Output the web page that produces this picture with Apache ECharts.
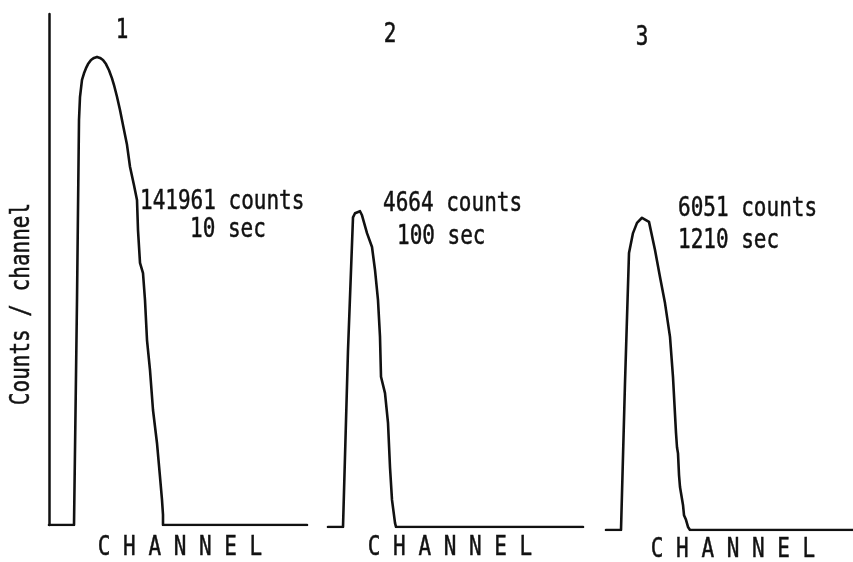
<!DOCTYPE html>
<html>
<head>
<meta charset="utf-8">
<script src="https://cdn.jsdelivr.net/npm/echarts@6/dist/echarts.min.js"></script>
<style>
  html, body { margin: 0; padding: 0; background: #fff; }
  #chart { width: 853px; height: 562px; }
</style>
</head>
<body>
<div id="chart"></div>
<script>
// Pulse-height spectra, three acquisitions: [channel, counts/channel (relative, full scale 1000)]
const spectrum1 = [
  [0, 0], [25, 0], [28, 440], [30, 793], [31, 838], [33, 871], [35, 884], [37, 894],
  [39, 902], [42, 910], [45, 914], [48, 916], [51, 914], [54, 910], [57, 902], [60, 890],
  [63, 874], [65, 861], [68, 838], [71, 812], [74, 783], [78, 744], [81, 701], [85, 665],
  [88, 636], [89, 577], [91, 513], [94, 493], [96, 440], [98, 362], [101, 303], [104, 225],
  [108, 160], [111, 94], [113, 49], [114, 20], [114, 0], [258, 0]
];
const spectrum2 = [
  [0, 0], [15, 0], [20, 346], [25, 606], [27, 614], [29, 617], [32, 618], [34, 610],
  [39, 575], [44, 548], [47, 503], [50, 444], [52, 372], [53, 294], [57, 262], [60, 204],
  [62, 117], [64, 53], [67, 8], [68, 0], [255, 0]
];
const spectrum3 = [
  [0, 0], [15, 0], [19, 288], [23, 542], [27, 581], [31, 601], [36, 611], [38, 613],
  [43, 603], [49, 548], [54, 495], [59, 444], [64, 378], [67, 299], [70, 190], [71, 162],
  [72, 150], [73, 108], [74, 84], [77, 49], [78, 29], [80, 20], [82, 6], [84, 0], [247, 0]
];
const channelMax = [258, 255, 247];
const panelLabels = ['1', '2', '3'];
const countLabels = ['141961 counts', '4664 counts', '6051 counts'];
const timeLabels = ['10 sec', '100 sec', '1210 sec'];
const xAxisTitle = 'C H A N N E L';
const yAxisTitle = 'Counts / channel';

const spectra = [spectrum1, spectrum2, spectrum3];
const ink = '#111';
const font = '"DejaVu Sans Mono", "Liberation Mono", monospace';

const grids = [
  { left: 49, top: 14, width: 258, height: 511 },
  { left: 328, top: 16, width: 255, height: 511 },
  { left: 606, top: 19, width: 247, height: 511 }
];

const xAxes = grids.map((g, i) => ({
  type: 'value', gridIndex: i, min: 0, max: channelMax[i],
  axisLine: { show: false }, axisTick: { show: false }, axisLabel: { show: false },
  splitLine: { show: false }
}));

const yAxes = grids.map((g, i) => ({
  type: 'value', gridIndex: i, min: 0, max: 1000,
  axisLine: { show: i === 0, lineStyle: { color: ink, width: 2.5 } },
  axisTick: { show: false }, axisLabel: { show: false }, splitLine: { show: false }
}));

const series = spectra.map((d, i) => ({
  type: 'line', xAxisIndex: i, yAxisIndex: i, data: d,
  showSymbol: false, symbol: 'none', silent: true,
  lineStyle: { color: ink, width: 2.6, join: 'round', cap: 'round' }
}));

// typewriter-style lettering: narrow, tall glyphs
const textEl = (txt, x, y, align, rotation) => ({
  type: 'text', x: x, y: y, rotation: rotation || 0, scaleY: 1.25,
  style: {
    text: txt, fill: ink, stroke: ink, lineWidth: 0.4, font: '21px ' + font,
    textAlign: align, textVerticalAlign: 'middle'
  }
});

// annotation anchors: panel number, count line, time line, axis title centre
const labelPos = [
  { num: [122, 31], counts: [140, 202], time: [190, 230], axis: [180, 548] },
  { num: [390, 35], counts: [383, 204], time: [397, 237], axis: [450, 548] },
  { num: [642, 38], counts: [678, 209], time: [678, 241], axis: [733, 550] }
];

const graphic = [];
labelPos.forEach((p, i) => {
  graphic.push(textEl(panelLabels[i], p.num[0], p.num[1], 'center'));
  graphic.push(textEl(countLabels[i], p.counts[0], p.counts[1], 'left'));
  graphic.push(textEl(timeLabels[i], p.time[0], p.time[1], 'left'));
  graphic.push(textEl(xAxisTitle, p.axis[0], p.axis[1], 'center'));
});
graphic.push(textEl(yAxisTitle, 22, 304, 'center', Math.PI / 2));

const chart = echarts.init(document.getElementById('chart'));
chart.setOption({
  animation: false,
  backgroundColor: '#fff',
  grid: grids,
  xAxis: xAxes,
  yAxis: yAxes,
  series: series,
  graphic: graphic
});
</script>
</body>
</html>
